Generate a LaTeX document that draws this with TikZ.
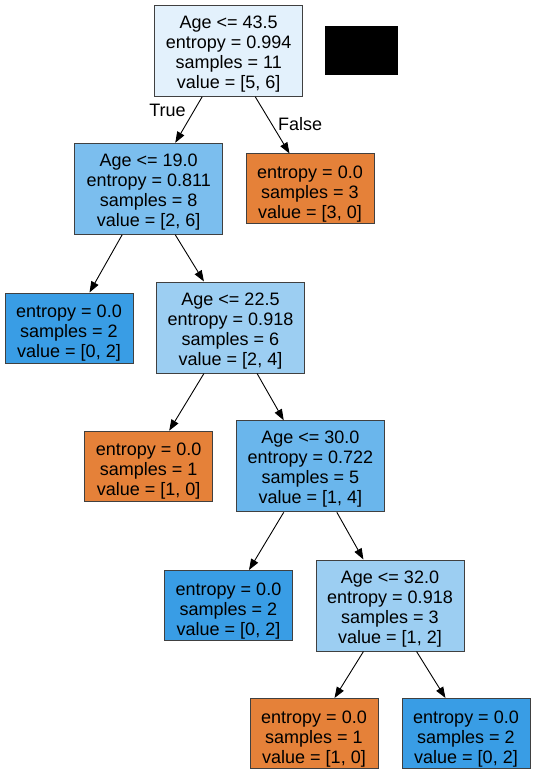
\documentclass[tikz,border=0pt]{standalone}
\usepackage{fontspec}
\setmainfont{Liberation Sans}
\usepackage{tikz}
\usetikzlibrary{arrows.meta}
\definecolor{leafblue}{HTML}{399DE5}
\definecolor{leaforange}{HTML}{E58139}
\definecolor{splitA}{HTML}{E3F1FC}
\definecolor{splitB}{HTML}{7BBEEE}
\definecolor{splitC}{HTML}{9CCEF2}
\definecolor{splitD}{HTML}{6AB6EC}
\tikzstyle{split} =
[
	draw=black!75,rectangle,line width=1pt,inner sep=0pt,align=center,
	minimum width=148pt, minimum height=91pt, text height=79pt
]
\tikzstyle{leaf} =
[
	draw=black!75,rectangle,line width=1pt,inner sep=0pt,align=center,
	minimum width=128pt, minimum height=70pt, text height=63pt
]
\begin{document}
\begin{tikzpicture}[x=1pt,y=-1pt,->,>={Triangle[length=11pt,width=8pt]},line width=0.9pt,
                    font=\fontsize{18}{20}\selectfont]
\useasboundingbox (0,0) rectangle (535,775);

\node[split, fill=splitA] (S0) at (228.7,50.8) {Age <= 43.5\\entropy = 0.994\\samples = 11\\value = [5, 6]};
\fill[black] (325,26) rectangle (398,75);

\node[split, fill=splitB] (S1) at (148.7,188.8) {Age <= 19.0\\entropy = 0.811\\samples = 8\\value = [2, 6]};
\node[leaf, fill=leaforange] (L1) at (310,189) {entropy = 0.0\\samples = 3\\value = [3, 0]};

\node[leaf, fill=leafblue] (L2) at (69,328) {entropy = 0.0\\samples = 2\\value = [0, 2]};
\node[split, fill=splitC] (S2) at (230.5,327.5) {Age <= 22.5\\entropy = 0.918\\samples = 6\\value = [2, 4]};

\node[leaf, fill=leaforange] (L3) at (148.7,466.2) {entropy = 0.0\\samples = 1\\value = [1, 0]};
\node[split, fill=splitD] (S3) at (310.3,466.3) {Age <= 30.0\\entropy = 0.722\\samples = 5\\value = [1, 4]};

\node[leaf, fill=leafblue] (L4) at (228.5,605.5) {entropy = 0.0\\samples = 2\\value = [0, 2]};
\node[split, fill=splitC] (S4) at (390,605.5) {Age <= 32.0\\entropy = 0.918\\samples = 3\\value = [1, 2]};

\node[leaf, fill=leaforange] (L5) at (314,733.5) {entropy = 0.0\\samples = 1\\value = [1, 0]};
\node[leaf, fill=leafblue] (L6) at (466,733.5) {entropy = 0.0\\samples = 2\\value = [0, 2]};

\path
	(S0.-120) edge node[pos=0.3, anchor=east, inner sep=0pt, xshift=-8pt] {True} (S1.60)
	(S0.-60) edge node[pos=0.48, anchor=west, inner sep=0pt, xshift=6pt] {False} (L1.120);

\path
	(S1.-120) edge (L2.60)
	(S1.-60) edge (S2.120)
	(S2.-120) edge (L3.60)
	(S2.-60) edge (S3.120)
	(S3.-120) edge (L4.60)
	(S3.-60) edge (S4.120)
	(S4.-120) edge (L5.60)
	(S4.-60) edge (L6.120);

\end{tikzpicture}
\end{document}
